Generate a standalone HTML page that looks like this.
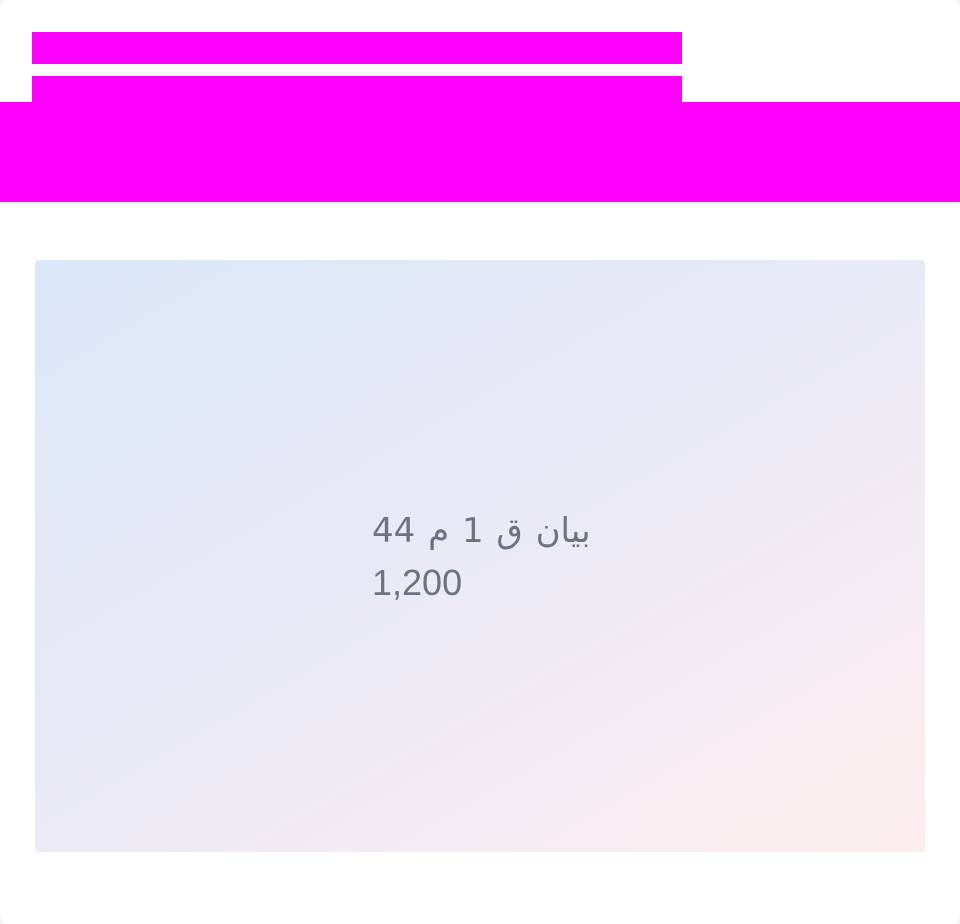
<!DOCTYPE html>
<html><head><meta charset="utf-8"><style>
html,body{margin:0;padding:0;background:#f3f4f6;}
.card{position:absolute;left:0;top:0;width:960px;height:924px;background:#fff;border-radius:10px;overflow:hidden;}
.bar{position:absolute;background:#ff00ff;}
.band{position:absolute;left:0;top:102px;width:960px;height:100px;background:#ff00ff;box-shadow:0 2px 4px rgba(0,0,0,0.08);}
.panel{position:absolute;left:35px;top:260px;width:890px;height:592px;border-radius:4px;background:linear-gradient(150deg,#dbe7fa 0%,#e8e9f6 45%,#f4ecf2 75%,#fdeeee 100%);}
.txt{position:absolute;left:372px;top:504px;font-family:"Liberation Sans","DejaVu Sans",sans-serif;font-size:36px;line-height:52px;color:#6b7280;}
.l1{display:inline-block;direction:rtl;white-space:nowrap;font-family:"DejaVu Sans",sans-serif;font-size:34px;word-spacing:2px;}
</style></head><body>
<div class="card">
<div class="bar" style="left:32px;top:32px;width:650px;height:32px"></div>
<div class="bar" style="left:32px;top:76px;width:650px;height:30px"></div>
<div class="band"></div>
<div class="panel"></div>
<div class="txt">
<div class="l1" dir="rtl">بيان ق 1 م 44</div>
<div>1,200</div>
</div>
</div>
</body></html>
